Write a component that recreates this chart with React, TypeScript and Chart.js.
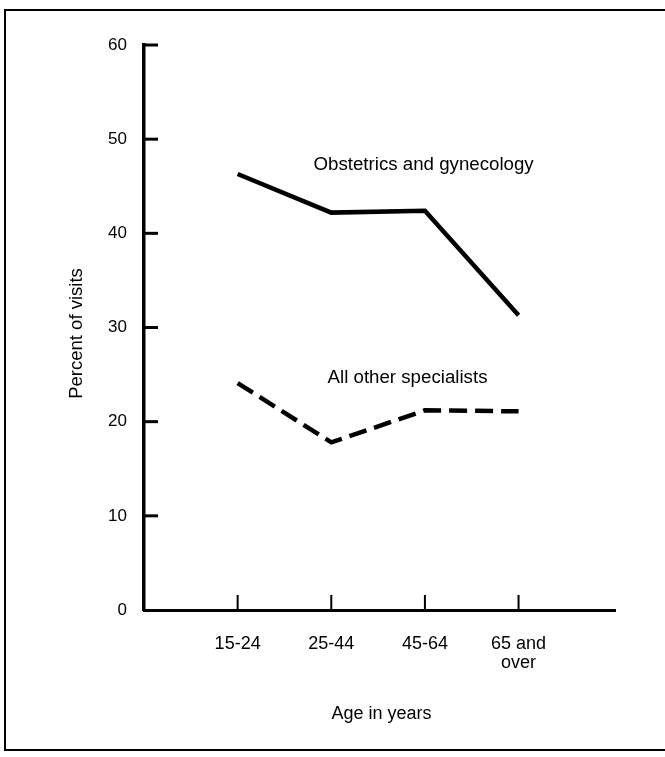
import React, { useEffect, useRef } from "react";
import { Chart, registerables } from "chart.js";

Chart.register(...registerables);

const categories = ["15-24", "25-44", "45-64", ["65 and", "over"]];
const obstetrics = [46.3, 42.2, 42.4, 31.3];
const otherSpecialists = [24.1, 17.8, 21.2, 21.1];
const yTicks = [0, 10, 20, 30, 40, 50, 60];
const seriesLabels = ["Obstetrics and gynecology", "All other specialists"];
// label anchor positions in data space (x index space, y percent)
const labelX = [1.81, 1.96];
const labelY = [47.3, 24.6];
const xTitle = "Age in years";
const yTitle = "Percent of visits";

const FONT = '"Liberation Sans", Arial, Helvetica, sans-serif';

const decorPlugin = {
  id: "decor",
  beforeDraw(chart: any) {
    const ctx = chart.ctx;
    ctx.save();
    ctx.fillStyle = "#fff";
    ctx.fillRect(0, 0, chart.width, chart.height);
    ctx.strokeStyle = "#000";
    ctx.lineWidth = 2;
    ctx.strokeRect(5, 10, 700, 740);
    ctx.restore();
  },
  afterDraw(chart: any) {
    const ctx = chart.ctx;
    const xs = chart.scales.x;
    const ys = chart.scales.y;
    const area = chart.chartArea;
    ctx.save();
    ctx.strokeStyle = "#000";
    // inward y ticks
    ctx.lineWidth = 3;
    yTicks.forEach((v) => {
      if (v === 0) return;
      const py = ys.getPixelForValue(v);
      ctx.beginPath();
      ctx.moveTo(area.left, py);
      ctx.lineTo(area.left + 14, py);
      ctx.stroke();
    });
    // inward x ticks
    ctx.lineWidth = 2;
    categories.forEach((_, i) => {
      const px = xs.getPixelForValue(i + 1);
      ctx.beginPath();
      ctx.moveTo(px, area.bottom);
      ctx.lineTo(px, area.bottom - 15);
      ctx.stroke();
    });
    // series labels
    ctx.fillStyle = "#000";
    ctx.font = `18.7px ${FONT}`;
    ctx.textAlign = "left";
    ctx.textBaseline = "middle";
    seriesLabels.forEach((t, i) => {
      ctx.fillText(t, xs.getPixelForValue(labelX[i]), ys.getPixelForValue(labelY[i]));
    });
    // axis titles
    ctx.font = `18px ${FONT}`;
    ctx.textAlign = "center";
    ctx.fillText(xTitle, (area.left + area.right) / 2 + 2, 714);
    ctx.translate(77, (area.top + area.bottom) / 2 + 6);
    ctx.rotate(-Math.PI / 2);
    ctx.font = `18.5px ${FONT}`;
    ctx.fillText(yTitle, 0, 0);
    ctx.restore();
  },
};

export default function App() {
  const ref = useRef<HTMLCanvasElement | null>(null);
  useEffect(() => {
    document.body.style.margin = "0";
    const canvas = ref.current;
    if (!canvas) return;
    const chart = new Chart(canvas, {
      type: "line",
      data: {
        datasets: [
          {
            label: seriesLabels[0],
            data: obstetrics.map((y, i) => ({ x: i + 1, y })),
            borderColor: "#000",
            borderWidth: 4.5,
            pointRadius: 0,
            tension: 0,
            fill: false,
          },
          {
            label: seriesLabels[1],
            data: otherSpecialists.map((y, i) => ({ x: i + 1, y })),
            borderColor: "#000",
            borderWidth: 4.5,
            borderDash: [18, 8],
            pointRadius: 0,
            tension: 0,
            fill: false,
          },
        ],
      },
      options: {
        animation: false,
        responsive: false,
        devicePixelRatio: 1,
        layout: { padding: { left: 0, top: 45, right: 50, bottom: 0 } },
        plugins: {
          legend: { display: false },
          tooltip: { enabled: false },
          title: { display: false },
        },
        scales: {
          x: {
            type: "linear",
            min: 0,
            max: 5.03,
            afterFit: (s: any) => {
              s.height = 147;
            },
            afterBuildTicks: (s: any) => {
              s.ticks = categories.map((_, i) => ({ value: i + 1 }));
            },
            ticks: {
              color: "#000",
              font: { family: FONT, size: 18, lineHeight: 1.05 },
              padding: 25,
              maxRotation: 0,
              autoSkip: false,
              callback: (v: any) => {
                const idx = Math.round(Number(v)) - 1;
                return categories[idx] ?? "";
              },
            },
            grid: { display: false, drawTicks: false },
            border: { display: true, color: "#000", width: 3 },
          },
          y: {
            type: "linear",
            min: 0,
            max: 60,
            afterFit: (s: any) => {
              s.width = 144;
            },
            afterBuildTicks: (s: any) => {
              s.ticks = yTicks.map((v) => ({ value: v }));
            },
            ticks: {
              color: "#000",
              font: { family: FONT, size: 17 },
              padding: 17,
            },
            grid: { display: false, drawTicks: false },
            border: { display: true, color: "#000", width: 3.5 },
          },
        },
      },
      plugins: [decorPlugin],
    });
    return () => chart.destroy();
  }, []);
  return (
    <div style={{ width: 665, height: 757 }}>
      <canvas ref={ref} width={665} height={757} style={{ display: "block" }} />
    </div>
  );
}
